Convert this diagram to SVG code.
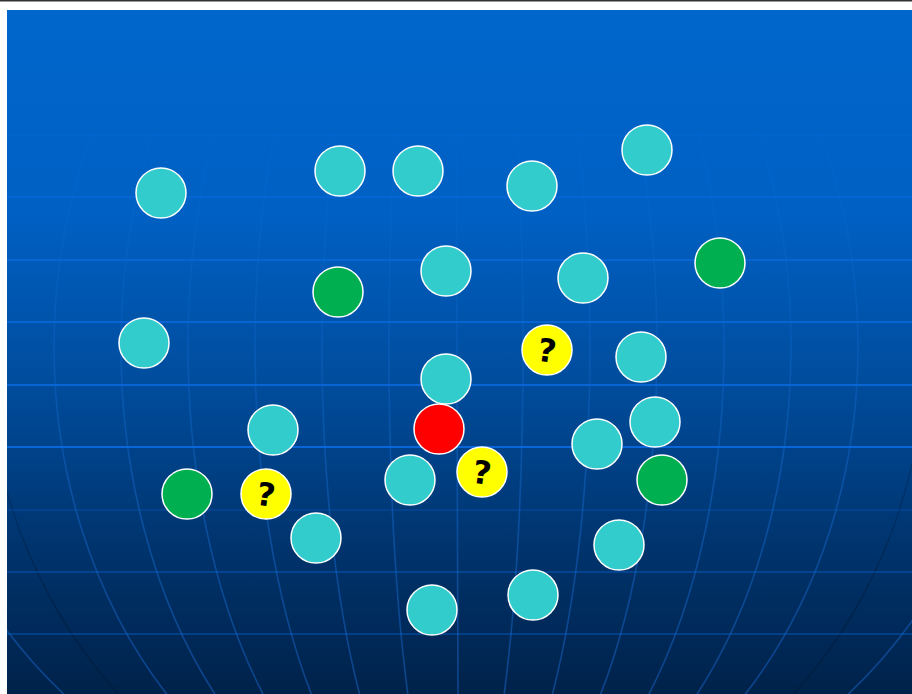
<svg xmlns="http://www.w3.org/2000/svg" width="912" height="694" viewBox="0 0 912 694">
<defs>
<linearGradient id="bg" x1="0" y1="10" x2="0" y2="694" gradientUnits="userSpaceOnUse">
<stop offset="0" stop-color="#0066cc"/>
<stop offset="0.3" stop-color="#0060c3"/>
<stop offset="0.55" stop-color="#004c9c"/>
<stop offset="0.78" stop-color="#00346e"/>
<stop offset="1" stop-color="#00224a"/>
</linearGradient>
<linearGradient id="mer" x1="0" y1="90" x2="0" y2="694" gradientUnits="userSpaceOnUse">
<stop offset="0" stop-color="#1a78e6" stop-opacity="0"/>
<stop offset="0.35" stop-color="#1a78e6" stop-opacity="0.18"/>
<stop offset="0.65" stop-color="#1a6fd8" stop-opacity="0.4"/>
<stop offset="1" stop-color="#1a66cc" stop-opacity="0.5"/>
</linearGradient>
<linearGradient id="shadow" x1="0" y1="300" x2="0" y2="694" gradientUnits="userSpaceOnUse">
<stop offset="0" stop-color="#001a3a" stop-opacity="0"/>
<stop offset="1" stop-color="#001a3a" stop-opacity="0.6"/>
</linearGradient>
<clipPath id="clip"><rect x="7" y="10" width="905" height="684"/></clipPath>
</defs>
<style>
.node circle{stroke:#ffffff;stroke-width:1.5}
.cyan{fill:#33cccc}
.green{fill:#00b050}
.yellow{fill:#ffff00}
.red{fill:#ff0000}
.q{font-family:"DejaVu Sans","Liberation Sans",sans-serif;font-weight:bold;font-size:32px;fill:#000000;text-anchor:middle}
.h{stroke:#0a6ae0;stroke-width:2;fill:none}
.m{stroke:url(#mer);stroke-width:1.6;fill:none}
</style>
<rect x="0" y="0" width="912" height="694" fill="#ffffff"/>
<rect x="0" y="0" width="912" height="1.5" fill="#333333"/>
<g id="background" clip-path="url(#clip)">
<rect x="7" y="10" width="905" height="684" fill="url(#bg)"/>
<g id="meridians">
<line class="m" x1="456" y1="80" x2="458" y2="694"/>
<ellipse class="m" cx="456" cy="347" rx="67" ry="500"/>
<ellipse class="m" cx="456" cy="347" rx="134" ry="500"/>
<ellipse class="m" cx="456" cy="347" rx="201" ry="500"/>
<ellipse class="m" cx="456" cy="347" rx="268" ry="500"/>
<ellipse class="m" cx="456" cy="347" rx="335" ry="500"/>
<ellipse class="m" cx="456" cy="347" rx="402" ry="500"/>
<ellipse cx="456" cy="347" rx="469" ry="500" fill="none" stroke="url(#shadow)" stroke-width="1.6"/>
<ellipse class="m" cx="456" cy="347" rx="545" ry="500"/>
</g>
<g id="parallels">
<line class="h" x1="7" y1="72.5" x2="912" y2="72.5" stroke-opacity="0.08"/>
<line class="h" x1="7" y1="135" x2="912" y2="135" stroke-opacity="0.2"/>
<line class="h" x1="7" y1="197" x2="912" y2="197" stroke-opacity="0.55"/>
<line class="h" x1="7" y1="260" x2="912" y2="260" stroke-opacity="0.65"/>
<line class="h" x1="7" y1="322" x2="912" y2="322" stroke-opacity="0.75"/>
<line class="h" x1="7" y1="385" x2="912" y2="385" stroke-opacity="0.85"/>
<line class="h" x1="7" y1="447" x2="912" y2="447" stroke-opacity="0.9"/>
<line class="h" x1="7" y1="510" x2="912" y2="510" stroke-opacity="0.2"/>
<line class="h" x1="7" y1="572" x2="912" y2="572" stroke-opacity="0.35"/>
<line class="h" x1="7" y1="634" x2="912" y2="634" stroke-opacity="0.35"/>
</g>
</g>
<g id="connectors"/>
<g id="n1" class="node"><circle class="cyan" cx="161" cy="193" r="25"/></g>
<g id="n2" class="node"><circle class="cyan" cx="340" cy="171" r="25"/></g>
<g id="n3" class="node"><circle class="cyan" cx="418" cy="171" r="25"/></g>
<g id="n4" class="node"><circle class="cyan" cx="532" cy="186" r="25"/></g>
<g id="n5" class="node"><circle class="cyan" cx="647" cy="150" r="25"/></g>
<g id="n6" class="node"><circle class="cyan" cx="446" cy="271" r="25"/></g>
<g id="n7" class="node"><circle class="cyan" cx="583" cy="278" r="25"/></g>
<g id="n8" class="node"><circle class="cyan" cx="144" cy="343" r="25"/></g>
<g id="n9" class="node"><circle class="cyan" cx="641" cy="357" r="25"/></g>
<g id="n10" class="node"><circle class="cyan" cx="446" cy="379" r="25"/></g>
<g id="n11" class="node"><circle class="cyan" cx="273" cy="430" r="25"/></g>
<g id="n12" class="node"><circle class="cyan" cx="655" cy="422" r="25"/></g>
<g id="n13" class="node"><circle class="cyan" cx="597" cy="444" r="25"/></g>
<g id="n14" class="node"><circle class="cyan" cx="410" cy="480" r="25"/></g>
<g id="n15" class="node"><circle class="cyan" cx="316" cy="538" r="25"/></g>
<g id="n16" class="node"><circle class="cyan" cx="619" cy="545" r="25"/></g>
<g id="n17" class="node"><circle class="cyan" cx="432" cy="610" r="25"/></g>
<g id="n18" class="node"><circle class="cyan" cx="533" cy="595" r="25"/></g>
<g id="g1" class="node"><circle class="green" cx="338" cy="292" r="25"/></g>
<g id="g2" class="node"><circle class="green" cx="720" cy="263" r="25"/></g>
<g id="g3" class="node"><circle class="green" cx="187" cy="494" r="25"/></g>
<g id="g4" class="node"><circle class="green" cx="662" cy="480" r="25"/></g>
<g id="red" class="node"><circle class="red" cx="439" cy="429" r="25"/></g>
<g id="q1" class="node"><circle class="yellow" cx="547" cy="350" r="25"/><text class="q" x="547" y="362" transform="rotate(8 547 350)">?</text></g>
<g id="q2" class="node"><circle class="yellow" cx="482" cy="472" r="25"/><text class="q" x="482" y="484" transform="rotate(8 482 472)">?</text></g>
<g id="q3" class="node"><circle class="yellow" cx="266" cy="494" r="25"/><text class="q" x="266" y="506" transform="rotate(8 266 494)">?</text></g>
</svg>
